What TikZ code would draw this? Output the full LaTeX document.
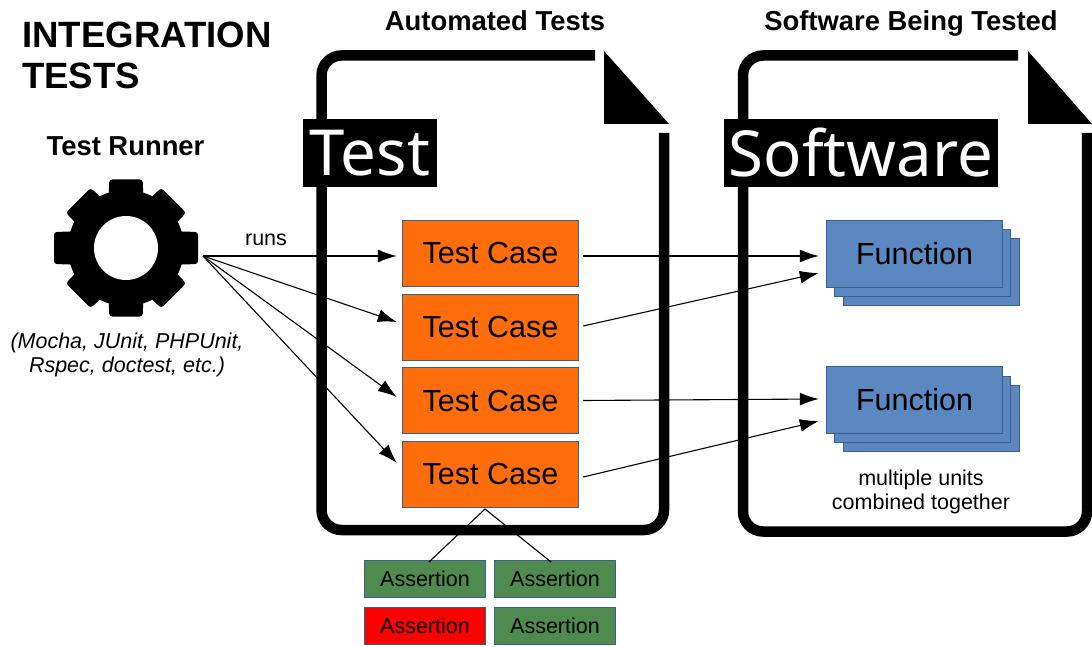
\documentclass[tikz,border=0pt]{standalone}
\usepackage{fontspec}
\setmainfont{Liberation Sans}
\newfontfamily\labelfont{Noto Sans}
\usetikzlibrary{arrows.meta}
\definecolor{boxedge}{HTML}{3A5F8A}
\definecolor{casefill}{HTML}{FF6D0A}
\definecolor{passfill}{HTML}{4F8A4F}
\definecolor{failfill}{HTML}{FF0000}
\definecolor{funcfill}{HTML}{5C88C2}
\newcommand{\fs}[1]{\fontsize{#1pt}{\dimexpr #1pt*112/100\relax}\selectfont}
\tikzset{
  casebox/.style={draw=boxedge,line width=0.9pt,fill=casefill,minimum width=176.5pt,minimum height=66pt,inner sep=0pt,font=\fs{30.5}},
  assertbox/.style={draw=boxedge,line width=1.1pt,minimum width=121pt,minimum height=37pt,inner sep=0pt,font=\fs{21.5}},
  funcbox/.style={draw=boxedge,line width=0.9pt,fill=funcfill,minimum width=176.5pt,minimum height=67pt,inner sep=0pt,font=\fs{30.5}},
  docline/.style={line width=10.5pt,line cap=butt},
  labelbox/.style={fill=black,text=white,inner sep=0pt,font=\labelfont\fs{63.5}},
  flow/.style={line width=1.1pt,-{Latex[length=19pt,width=13pt]}},
  head/.style={font=\bfseries\fs{27.4},align=center,inner sep=0pt,anchor=base},
  plain/.style={font=\fs{21.5},align=center,inner sep=0pt},
  treeline/.style={line width=1.1pt}
}
\begin{document}
\begin{tikzpicture}[x=1pt,y=-1pt]
\useasboundingbox (0,0) rectangle (1092,647);
\fill[white] (0,0) rectangle (1092,647);
% titles
\node[font=\bfseries\fontsize{36.6pt}{41pt}\selectfont,align=left,inner sep=0pt,anchor=north west] (title) at (22,21.5) {INTEGRATION\\TESTS};
\node[head] (autotitle) at (495,31) {Automated Tests};
\node[head] (swtitle) at (911,31) {Software Being Tested};
\node[head] (runnertitle) at (125.5,156) {Test Runner};
% gear
\fill[black] (126,248) circle[radius=58];
\foreach \a/\r/\w in {0/72/16,45/67.5/17.5,90/68.5/16.7,135/67.5/17.5,180/72/16,225/67.5/17.5,270/68.5/16.7,315/67.5/17.5}{
  \fill[black,rounded corners=3pt,rotate around={\a:(126,248)}] (126+40,248-\w-1) -- (126+\r,248-\w) -- (126+\r,248+\w) -- (126+40,248+\w+1) -- cycle;
}
\fill[white] (126,248) circle[radius=32];
\node[plain,font=\itshape\fs{21.5}] (runnernote) at (127,354.5) {(Mocha, JUnit, PHPUnit,\\Rspec, doctest, etc.)};
\coordinate (runnerout) at (203,256);
% test cases and assertions
\node[casebox] (tc1) at (490.5,253.5) {Test Case};
\node[casebox] (tc2) at (490.5,327) {Test Case};
\node[casebox] (tc3) at (490.5,400.5) {Test Case};
\node[casebox] (tc4) at (490.5,474) {Test Case};
\node[assertbox,fill=passfill] (as1) at (425,579) {Assertion};
\node[assertbox,fill=passfill] (as2) at (555,579) {Assertion};
\node[assertbox,fill=failfill] (as3) at (425,626) {Assertion};
\node[assertbox,fill=passfill] (as4) at (555,626) {Assertion};
\coordinate (treetop) at (485,509);
\draw[treeline] ([xshift=4pt,yshift=-2pt]as1.north) -- (treetop) -- ([xshift=-4pt,yshift=-2pt]as2.north);
% documents
\draw[docline,rounded corners=20pt] (595,55.5) -- (321.5,55.5) -- (321.5,530) -- (664,530) -- (664,133);
\fill[black] (604,51) -- (669,124) -- (604,124) -- cycle;
\draw[docline,rounded corners=20pt] (1018,55.5) -- (743,55.5) -- (743,531.5) -- (1087,531.5) -- (1087,133);
\fill[black] (1028,51) -- (1092,124) -- (1028,124) -- cycle;
\node[labelbox,minimum width=134pt,minimum height=68pt] (testlabel) at (370,153) {Test};
\node[labelbox,minimum width=274pt,minimum height=68pt] (swlabel) at (861,153) {Software};
% functions
\fill[funcfill,draw=boxedge,line width=0.9pt] (843,238) rectangle (1019.5,305);
\fill[funcfill,draw=boxedge,line width=0.9pt] (834,229) rectangle (1010.5,296);
\node[funcbox] (fn1) at (914.5,253.5) {Function};
\fill[funcfill,draw=boxedge,line width=0.9pt] (843,385) rectangle (1019.5,451);
\fill[funcfill,draw=boxedge,line width=0.9pt] (834,376) rectangle (1010.5,442);
\node[funcbox] (fn2) at (914.5,400) {Function};
\node[plain] (multi) at (921,491.5) {multiple units\\combined together};
% connectors
\node[plain,anchor=base] (runs) at (266,245) {runs};
\draw[flow] (runnerout) -- ([xshift=-5pt,yshift=-2.5pt]tc1.west);
\draw[flow] (runnerout) -- ([xshift=-5pt,yshift=5pt]tc2.west);
\draw[flow] (runnerout) -- ([xshift=-5pt,yshift=3.5pt]tc3.west);
\draw[flow] (runnerout) -- ([xshift=-5pt,yshift=11pt]tc4.west);
\draw[flow] ([xshift=4pt,yshift=-2.5pt]tc1.east) -- ([xshift=-7pt,yshift=-2.5pt]fn1.west);
\draw[flow] ([xshift=4pt,yshift=1pt]tc2.east) -- ([xshift=-7pt,yshift=-19.5pt]fn1.west);
\draw[flow] ([xshift=4pt]tc3.east) -- ([xshift=-7pt,yshift=1pt]fn2.west);
\draw[flow] ([xshift=4pt,yshift=-3pt]tc4.east) -- ([xshift=-7pt,yshift=-21pt]fn2.west);
\end{tikzpicture}
\end{document}
